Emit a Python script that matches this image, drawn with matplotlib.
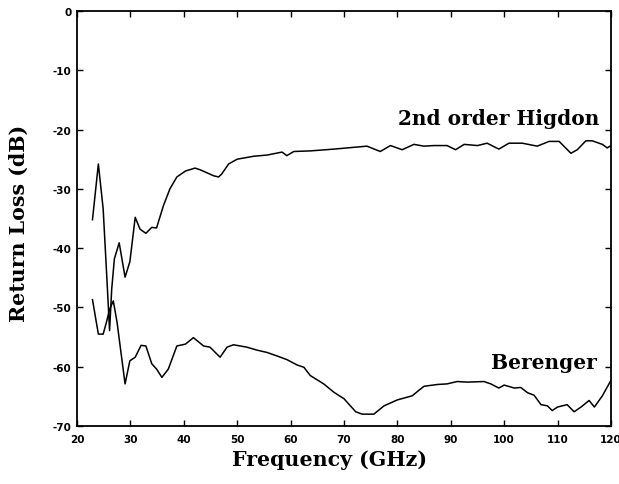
import matplotlib
matplotlib.use('Agg')
import matplotlib.pyplot as plt

# 2nd order Higdon boundary: frequency (GHz), return loss (dB)
higdon_freq = [22.9, 24.0, 24.9, 25.6, 26.1, 26.5, 27.0, 27.9, 29.0, 29.9, 30.9, 31.8,
               32.9, 34.0, 34.9, 36.2, 37.4, 38.7, 40.3, 42.1, 43.1, 45.6, 46.5, 47.1,
               48.4, 50.0, 53.1, 55.6, 58.4, 59.3, 60.6, 63.7, 68.1, 74.3, 76.8, 78.7,
               80.9, 83.1, 85.0, 86.8, 89.3, 90.9, 92.5, 95.0, 96.8, 99.0, 100.9, 103.4,
               106.2, 108.4, 110.3, 112.5, 113.7, 115.3, 116.5, 118.4, 119.3, 120.0]
higdon_rl = [-35.2, -25.8, -33.4, -45.2, -53.9, -46.9, -41.8, -39.1, -44.9, -42.3, -34.8, -36.8,
             -37.5, -36.5, -36.6, -32.8, -30.0, -28.0, -27.0, -26.5, -26.8, -27.8, -28.0, -27.5,
             -25.8, -25.0, -24.5, -24.3, -23.8, -24.4, -23.7, -23.6, -23.3, -22.8, -23.7, -22.7,
             -23.4, -22.5, -22.8, -22.7, -22.7, -23.4, -22.5, -22.7, -22.3, -23.3, -22.3, -22.3,
             -22.8, -22.0, -22.0, -24.0, -23.4, -21.9, -21.9, -22.5, -23.1, -22.7]

# Berenger PML
berenger_freq = [22.9, 24.0, 24.9, 25.6, 26.1, 26.8, 27.5, 29.0, 29.9, 30.9, 32.0, 32.9,
                 34.0, 34.9, 35.9, 37.1, 38.7, 40.3, 41.8, 43.7, 44.9, 46.8, 48.1, 49.3,
                 51.8, 53.7, 55.6, 57.5, 59.3, 61.2, 62.5, 63.7, 66.2, 68.1, 70.0, 72.2,
                 73.4, 75.6, 77.5, 80.0, 82.8, 84.0, 85.0, 87.5, 89.3, 91.2, 93.1, 96.2,
                 97.5, 99.0, 100.0, 101.9, 103.1, 104.4, 105.6, 106.9, 108.1, 109.0, 110.0,
                 111.8, 113.1, 114.4, 115.9, 116.9, 118.4, 120.0]
berenger_rl = [-48.7, -54.5, -54.5, -52.2, -50.3, -48.9, -52.5, -62.9, -59.0, -58.4, -56.4, -56.5,
               -59.5, -60.4, -61.8, -60.4, -56.5, -56.2, -55.1, -56.5, -56.7, -58.4, -56.7, -56.3,
               -56.7, -57.2, -57.6, -58.2, -58.8, -59.7, -60.1, -61.5, -62.9, -64.3, -65.4, -67.6,
               -68.0, -68.0, -66.6, -65.6, -64.9, -64.0, -63.3, -63.0, -62.9, -62.5, -62.6, -62.5,
               -62.9, -63.6, -63.1, -63.6, -63.5, -64.4, -64.8, -66.4, -66.6, -67.4, -66.8,
               -66.4, -67.6, -66.8, -65.7, -66.8, -64.9, -62.3]

x_ticks = list(range(20, 121, 10))
y_ticks = list(range(-70, 1, 10))

fig = plt.figure(figsize=(6.19, 4.85), dpi=100)
ax = fig.add_axes([0.1244, 0.1196, 0.8626, 0.8557])

ax.plot(higdon_freq, higdon_rl, color='black', linewidth=1.1)
ax.plot(berenger_freq, berenger_rl, color='black', linewidth=1.1)

ax.set_xlim(20, 120)
ax.set_ylim(-70, 0)
ax.set_xticks(x_ticks)
ax.set_yticks(y_ticks)
ax.set_xticklabels([str(t) for t in x_ticks], fontsize=7.5, fontweight='bold', family='DejaVu Sans')
ax.set_yticklabels([str(t) for t in y_ticks], fontsize=7.5, fontweight='bold', family='DejaVu Sans')
ax.tick_params(direction='in', top=True, right=True, length=4, width=1)
ax.tick_params(axis='x', pad=6)
ax.tick_params(axis='y', pad=4)
for s in ax.spines.values():
    s.set_linewidth(1.3)

# axis titles placed in figure coords to match the scan
fig.text(330 / 619, 1 - 460 / 485, 'Frequency (GHz)', fontsize=14.8, fontweight='bold',
         family='DejaVu Serif', ha='center', va='center')
fig.text(19 / 619, 1 - 223 / 485, 'Return Loss (dB)', fontsize=14.8, fontweight='bold',
         family='DejaVu Serif', ha='center', va='center', rotation=90)

ax.text(80.2, -18.0, '2nd order Higdon', fontsize=14.5, family='DejaVu Serif',
        fontweight='bold', va='center', ha='left')
ax.text(97.5, -59.2, 'Berenger', fontsize=14.5, family='DejaVu Serif',
        fontweight='bold', va='center', ha='left')

fig.savefig('out.png', dpi=100)
